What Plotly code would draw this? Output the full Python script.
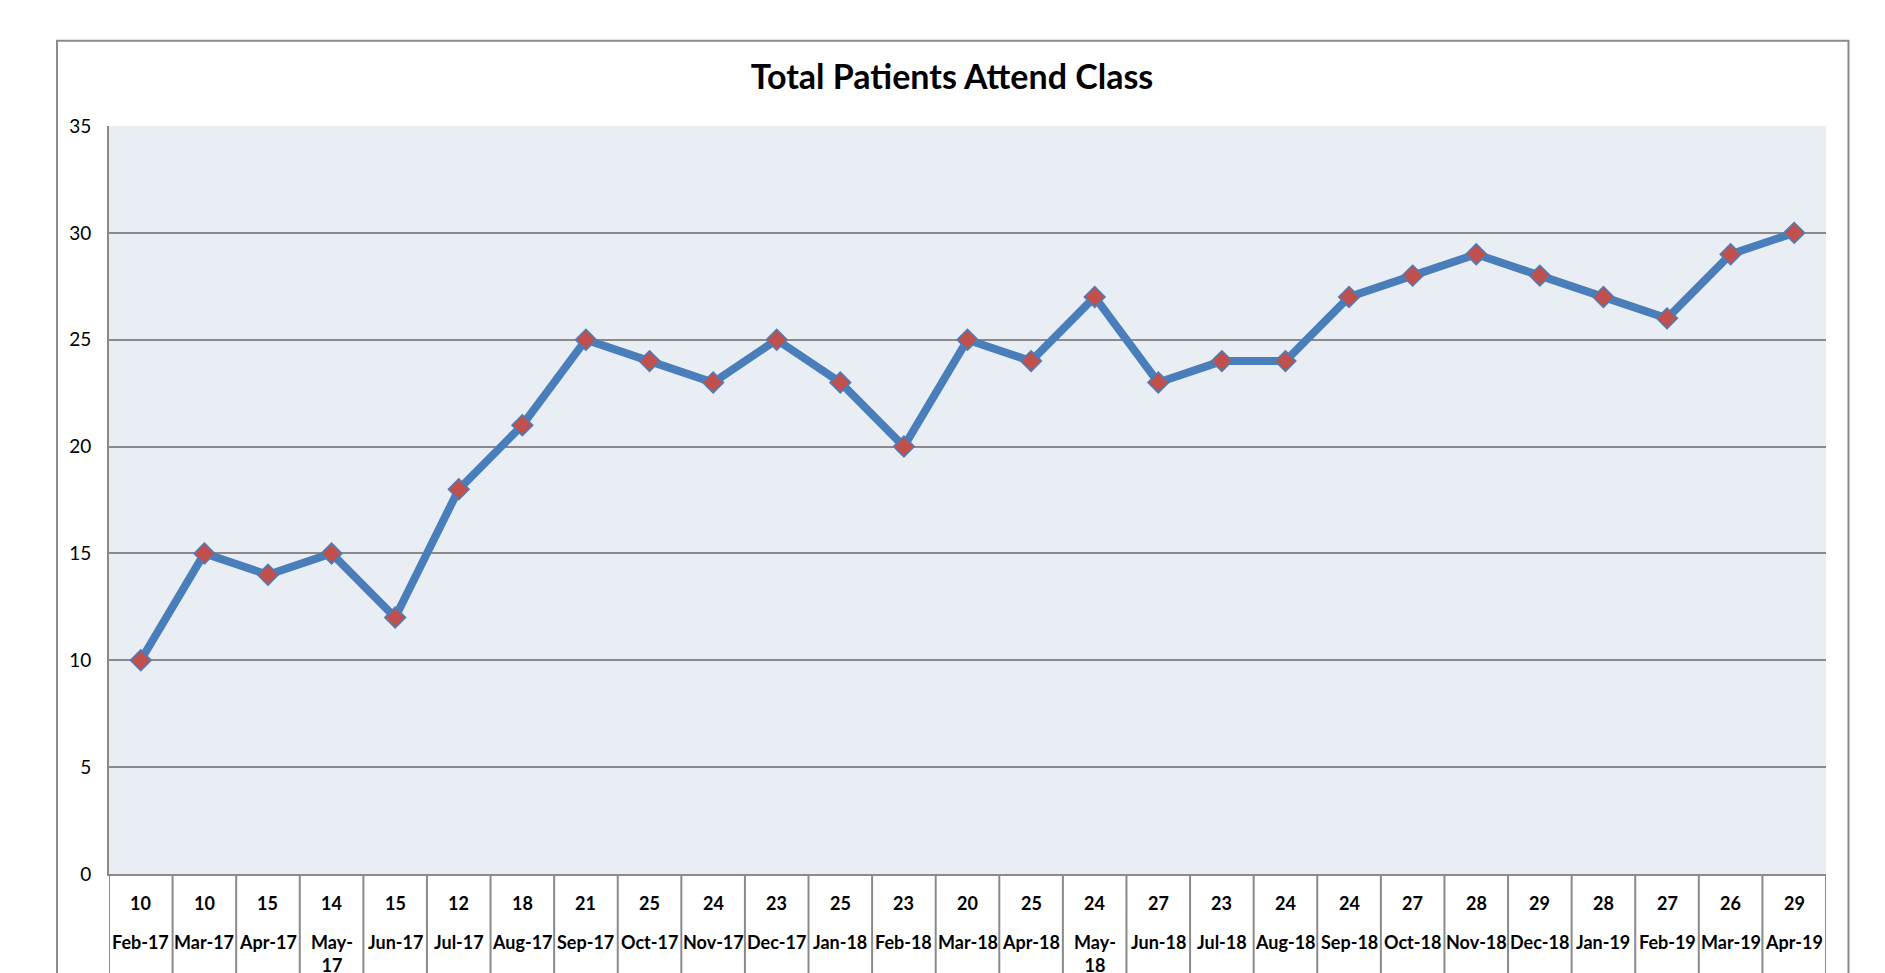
import plotly.graph_objects as go

months = ["Feb-17", "Mar-17", "Apr-17", "May-17", "Jun-17", "Jul-17", "Aug-17", "Sep-17",
          "Oct-17", "Nov-17", "Dec-17", "Jan-18", "Feb-18", "Mar-18", "Apr-18", "May-18",
          "Jun-18", "Jul-18", "Aug-18", "Sep-18", "Oct-18", "Nov-18", "Dec-18", "Jan-19",
          "Feb-19", "Mar-19", "Apr-19"]
# values drawn as the line
attendance = [10, 15, 14, 15, 12, 18, 21, 25, 24, 23, 25, 23, 20, 25, 24, 27, 23, 24, 24,
              27, 28, 29, 28, 27, 26, 29, 30]
# values shown in the data table row (as printed in the source)
table_values = [10, 10, 15, 14, 15, 12, 18, 21, 25, 24, 23, 25, 23, 20, 25, 24, 27, 23, 24,
                24, 27, 28, 29, 28, 27, 26, 29]
y_ticks = [0, 5, 10, 15, 20, 25, 30, 35]

OFF = 8  # page body margin
W, H = 1885 - OFF, 973 - OFF
L, T = 108.5 - OFF, 126 - OFF
R = W - (1826.5 - OFF)
B = H - (874 - OFF)
plot_h = H - T - B
plot_w = W - L - R

GRID = "#8a8a8a"
FONT = "Lato"


def px_x(p):
    return (p - OFF - L) / plot_w


def px_y(p):
    return (H + OFF - B - p) / plot_h


x = list(range(len(months)))

fig = go.Figure()
fig.add_trace(go.Scatter(
    x=x, y=attendance, mode="lines+markers",
    line=dict(color="#4A7EBB", width=8),
    marker=dict(symbol="diamond", size=16, color="#C0504D",
                line=dict(color="#4A7EBB", width=1.5)),
    showlegend=False, hoverinfo="x+y",
))

shapes = []
shapes.append(dict(type="rect", xref="paper", yref="paper",
                   x0=px_x(56.5), x1=px_x(1849), y0=px_y(1000), y1=px_y(40.7),
                   line=dict(color=GRID, width=2), fillcolor="rgba(0,0,0,0)", layer="below"))
for i in range(len(months) + 1):
    shapes.append(dict(type="line", xref="x", yref="paper",
                       x0=i - 0.5, x1=i - 0.5, y0=0, y1=px_y(1000),
                       line=dict(color=GRID, width=2)))

annotations = []
for i, (m, v) in enumerate(zip(months, table_values)):
    annotations.append(dict(x=i, y=0, xref="x", yref="paper", text=str(v),
                            showarrow=False, xanchor="center", yanchor="middle",
                            yshift=-29, font=dict(family=FONT, size=18, color="black",
                                                   weight="bold")))
    label = m.replace("May-", "May-<br>")
    annotations.append(dict(x=i, y=0, xref="x", yref="paper", text=label,
                            showarrow=False, xanchor="center", yanchor="top",
                            yshift=-55, font=dict(family=FONT, size=18, color="black",
                                                   weight="bold")))

fig.update_layout(
    width=W, height=H,
    margin=dict(l=L, r=R, t=T, b=B),
    paper_bgcolor="white",
    plot_bgcolor="#E9EDF4",
    title=dict(text="Total Patients Attend Class", xref="paper", x=px_x(952),
               xanchor="center", yref="container", y=1 - (77.5 - OFF) / H, yanchor="middle",
               font=dict(family=FONT, size=34, color="black", weight="bold")),
    xaxis=dict(range=[-0.5, len(months) - 0.5], showgrid=False, zeroline=False,
               showticklabels=False, showline=True, linecolor=GRID, linewidth=2,
               fixedrange=True),
    yaxis=dict(range=[0, 35], tickvals=y_ticks, showgrid=True, gridcolor=GRID,
               gridwidth=2, zeroline=False, showline=True, linecolor=GRID, linewidth=2,
               ticks="", ticklabelstandoff=12,
               tickfont=dict(family=FONT, size=19, color="black")),
    shapes=shapes,
    annotations=annotations,
)

fig.write_html("out.html")
